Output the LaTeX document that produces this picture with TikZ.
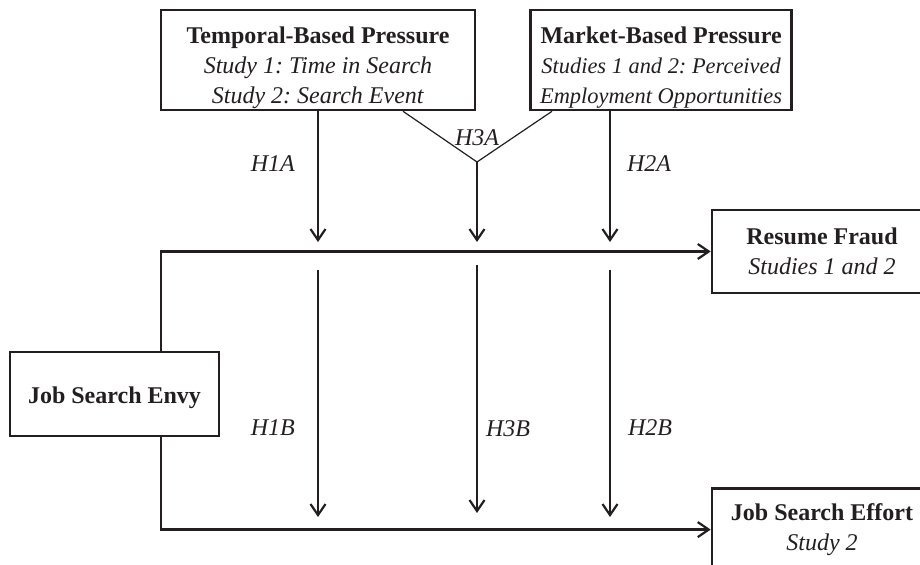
\documentclass[tikz,border=0pt]{standalone}
\usepackage{fontspec}
\setmainfont{Liberation Serif}
\usetikzlibrary{positioning,arrows.meta}
\definecolor{ink}{HTML}{231F20}
\tikzset{
   box/.style={draw=ink, line width=1.3pt, inner sep=0pt, align=center, text=ink},
   hyp/.style={font=\itshape, inner sep=0pt, text=ink},
   link/.style={ink, line width=1.1pt},
   >={Straight Barb[length=5.5pt,width=7.5pt]}
}
\begin{document}
\frenchspacing
\fontsize{12pt}{15pt}\selectfont
\begin{tikzpicture}[x=0.5pt, y=-0.5pt]
   \useasboundingbox (0,0) rectangle (920,565);
   \node (T) [box, minimum width=157pt, minimum height=50pt] at (318,60)
      {\rule{0pt}{16pt}\textbf{Temporal-Based Pressure}\\ \textit{Study 1: Time in Search}\\ \textit{Study 2: Search Event}};
   \node (M) [box, minimum width=130.5pt, minimum height=50pt, right=26.5pt of T]
      {\rule{0pt}{16pt}\textbf{Market-Based Pressure}\\
       {\fontsize{11.2pt}{15pt}\selectfont\itshape Studies 1 and 2: Perceived}\\
       {\fontsize{11.2pt}{15pt}\selectfont\itshape Employment Opportunities}};
   \node (F) [box, minimum width=110pt, minimum height=41.5pt] at (822,251.5)
      {\textbf{Resume Fraud}\\ \textit{Studies 1 and 2}};
   \node (J) [box, minimum width=110pt, minimum height=41pt, below=96.5pt of F]
      {\textbf{Job Search Effort}\\ \textit{Study 2}};
   \node (E) [box, minimum width=104.5pt, minimum height=42pt] at (114.5,394)
      {\rule{0pt}{12pt}\textbf{Job Search Envy}};
   \coordinate (x0) at (161,252);
   \coordinate (v1) at (403,110);
   \coordinate (v2) at (552,110);
   \coordinate (V)  at (477,162);
   \coordinate (a1) at (318,242);
   \coordinate (a2) at (477,242);
   \coordinate (a3) at (610,242);
   \coordinate (b1) at (318,270);
   \coordinate (b2) at (477,265);
   \coordinate (b3) at (610,270);
   \coordinate (d1) at (318,517);
   \coordinate (d2) at (477,513);
   \coordinate (d3) at (610,517);
   \draw[link,->] (E.north -| x0) |- (F.west);
   \draw[link,->] (E.south -| x0) |- (J.west);
   \draw[ink, line width=0.6pt] (T.south -| v1) -- (V) node[hyp, above=8pt]{H3A} -- (M.south -| v2);
   \path[link,->]
     (T.south -| a1) edge node[hyp, left=11pt, pos=.4]{H1A} (a1)
     (V)             edge (a2)
     (M.south -| a3) edge node[hyp, right=8pt, pos=.4]{H2A} (a3)
     (b1) edge node[hyp, left=11pt, pos=.64]{H1B} (d1)
     (b2) edge node[hyp, right=4pt, pos=.66]{H3B} (d2)
     (b3) edge node[hyp, right=8.5pt, pos=.64]{H2B} (d3);
\end{tikzpicture}
\end{document}
